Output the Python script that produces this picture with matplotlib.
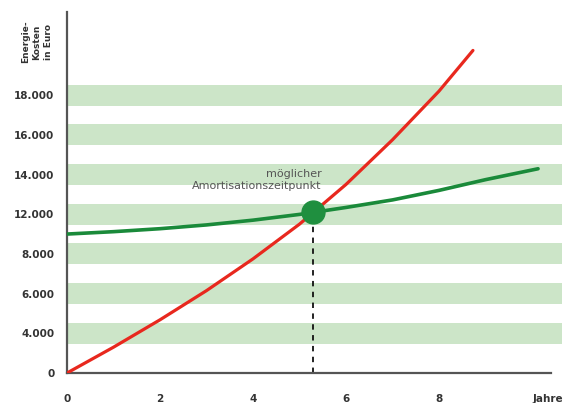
import matplotlib.pyplot as plt

# red curve (cumulative costs)
red_years = [0, 1, 2, 3, 4, 5, 6, 7, 8, 8.73]
red_costs = [0, 1300, 2680, 4150, 5750, 7500, 9500, 11750, 14200, 16250]

# green curve
green_years = [0, 1, 2, 3, 4, 5, 6, 7, 8, 9, 10.13]
green_costs = [7000, 7120, 7270, 7460, 7700, 7990, 8340, 8720, 9200, 9740, 10290]

# break-even point
cross_year = [5.3]
cross_cost = [8120]

y_ticks = [0, 2000, 4000, 6000, 8000, 10000, 12000, 14000]
y_labels = ['0', '4.000', '6.000', '8.000', '12.000', '14.000', '16.000', '18.000']
band_centers = y_ticks[1:]

x_ticks = [0, 2, 4, 6, 8, 10.34]
x_labels = ['0', '2', '4', '6', '8', 'Jahre']

fig = plt.figure(figsize=(5.75, 4.03), dpi=100)
ax = fig.add_axes([67/575, 30/403, (562-67)/575, (373-12)/403])

for c in band_centers:
    ax.axhspan(c - 530, c + 530, color='#cce5c8', lw=0, zorder=0)

ax.vlines(cross_year, 0, cross_cost, colors='#111111', linestyles=(0, (3, 3)), lw=1.3, zorder=2)
ax.plot(green_years, green_costs, color='#1a8a3a', lw=2.6, solid_capstyle='round', zorder=3)
ax.plot(red_years, red_costs, color='#e8281e', lw=2.3, solid_capstyle='round', zorder=4)
ax.plot(cross_year, cross_cost, 'o', color='#1f8f3f', ms=16.5, zorder=5)

ax.text(5.47, 9720, 'möglicher\nAmortisationszeitpunkt', ha='right', va='center',
        fontsize=8, color='#555555', linespacing=1.35)

ax.set_xlim(0, 10.645)
ax.set_ylim(0, 18187)
ax.set_xticks(x_ticks)
ax.set_xticklabels(x_labels)
ax.set_yticks(y_ticks)
ax.set_yticklabels(y_labels)
ax.tick_params(axis='y', length=0, pad=9, labelsize=7.5, labelcolor='#333333')
ax.tick_params(axis='x', length=0, pad=15, labelsize=7.5, labelcolor='#333333')
for lab in ax.get_xticklabels() + ax.get_yticklabels():
    lab.set_fontweight('bold')

ax.spines['top'].set_visible(False)
ax.spines['right'].set_visible(False)
for s in ['left', 'bottom']:
    ax.spines[s].set_color('#555555')
    ax.spines[s].set_linewidth(1.6)
ax.spines['bottom'].set_bounds(0, 10.4)

fig.text(37/575, 1 - 42/403, 'Energie-\nKosten\nin Euro', rotation=90, ha='center', va='center',
         fontsize=6.5, fontweight='bold', color='#333333', linespacing=1.4)

fig.savefig('out.png', dpi=100)
